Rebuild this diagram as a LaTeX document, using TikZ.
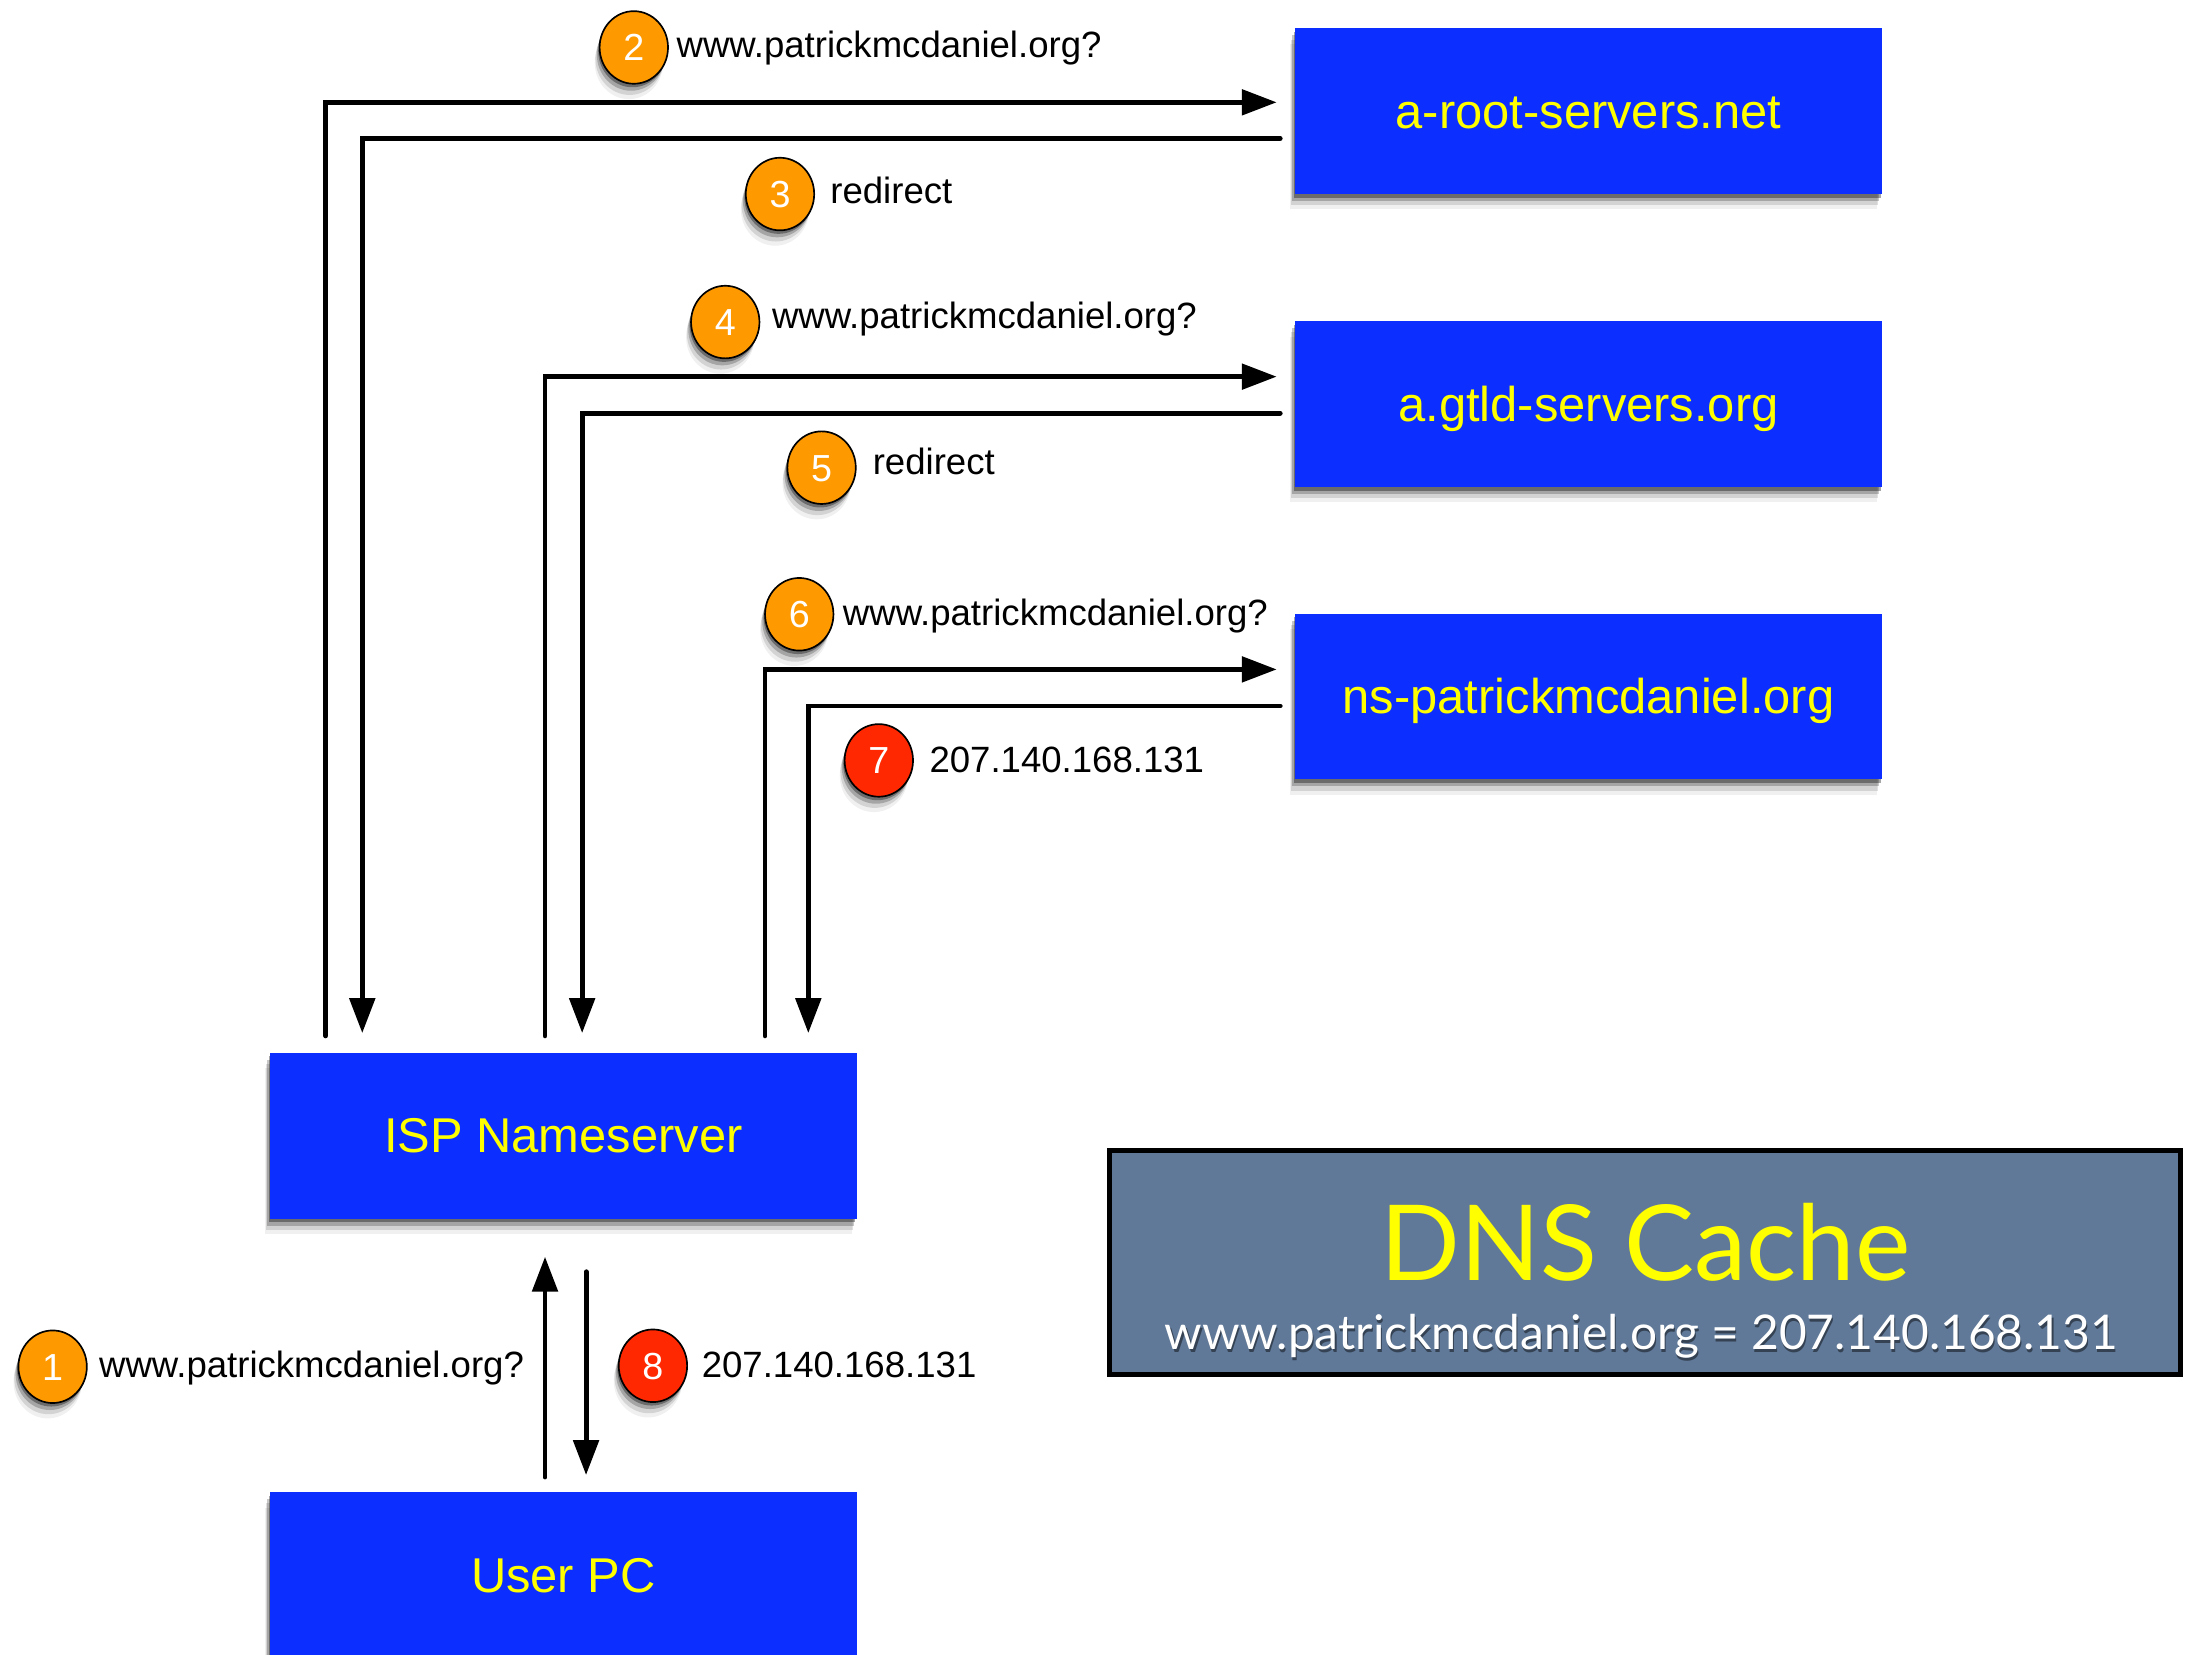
\documentclass[tikz,border=0pt]{standalone}
\usepackage{fontspec}
\setmainfont{Liberation Sans}
\newfontfamily\gillfont{Lato}
\usepackage{graphicx}
\usetikzlibrary{arrows.meta,shapes.geometric,shadows}
\definecolor{boxblue}{RGB}{12,46,255}
\definecolor{boxyellow}{RGB}{255,255,0}
\definecolor{badgeorange}{RGB}{255,153,0}
\definecolor{badgered}{RGB}{255,40,0}
\definecolor{cacheslate}{RGB}{96,121,152}
\begin{document}
\begin{tikzpicture}[x=1pt,y=-1pt,
 softshadow/.style={
   drop shadow={shadow xshift=-1pt,shadow yshift=-2.5pt,opacity=.35,fill=black},
   drop shadow={shadow xshift=-2pt,shadow yshift=-5pt,opacity=.22,fill=black},
   drop shadow={shadow xshift=-3pt,shadow yshift=-8pt,opacity=.12,fill=black},
   drop shadow={shadow xshift=-3.5pt,shadow yshift=-11pt,opacity=.06,fill=black}},
 server/.style={rectangle, fill=boxblue, text=boxyellow, minimum width=420.3pt,
   minimum height=118.7pt, inner sep=0pt, text height=24.6pt, text depth=0pt,
   font=\fontsize{35}{42}\selectfont, softshadow},
 badge/.style={ellipse, draw=black, line width=1.2pt, minimum width=49pt,
   minimum height=52pt, inner sep=0pt, text=white, text height=19.3pt, text depth=0pt,
   font=\fontsize{27}{32}\selectfont, softshadow},
 qbadge/.style={badge, fill=badgeorange},
 abadge/.style={badge, fill=badgered},
 msg/.style={anchor=base west, inner sep=0pt, font=\fontsize{26.2}{31}\selectfont},
 conn/.style={line width=3.5pt, line cap=round, line join=miter,
   -{Triangle[length=25pt,width=18pt]}},
]
\useasboundingbox (0,0) rectangle (1568,1184.8);

% servers
\node[server] (root) at (1137.85,79.65) {a-root-servers.net};
\node[server] (gtld) at (1137.85,289.5) {a.gtld-servers.org};
\node[server] (ns)   at (1137.85,499)   {ns-patrickmcdaniel.org};
\node[server] (isp)  at (403.5,813.5)   {ISP Nameserver};
\node[server] (user) at (403.5,1128.2)  {User PC};

% connector end points
\coordinate (q2s) at (233.3,742);   \coordinate (q2e) at (914.5,73.3);
\coordinate (r3s) at (917,99.1);    \coordinate (r3e) at (259.5,740);
\coordinate (q4s) at (390.4,742);   \coordinate (q4e) at (914.5,269.8);
\coordinate (r5s) at (917,296);     \coordinate (r5e) at (417,740);
\coordinate (q6s) at (548,742);     \coordinate (q6e) at (914.5,479.5);
\coordinate (r7s) at (917,505.7);   \coordinate (r7e) at (579,740);
\coordinate (a1s) at (390.4,1058);  \coordinate (a1e) at (390.4,900.2);
\coordinate (a8s) at (419.8,911);   \coordinate (a8e) at (419.8,1056.6);

\draw[conn] (q2s) |- (q2e);
\draw[conn] (r3s) -| (r3e);
\draw[conn] (q4s) |- (q4e);
\draw[conn] (r5s) -| (r5e);
\draw[conn] (q6s) |- (q6e);
\draw[conn] (r7s) -| (r7e);
\draw[conn] (a1s) -- (a1e);
\draw[conn] (a8s) -- (a8e);

% badges and messages
\node[qbadge] (b1) at (37.7,979) {1};
\node[msg] (m1) at (70.8,987) {www.patrickmcdaniel.org?};
\node[qbadge] (b2) at (454,34) {2};
\node[msg] (m2) at (484.5,41) {www.patrickmcdaniel.org?};
\node[qbadge] (b3) at (558.7,139) {3};
\node[msg] (m3) at (594.6,146) {redirect};
\node[qbadge] (b4) at (519.5,230.7) {4};
\node[msg] (m4) at (552.8,235.5) {www.patrickmcdaniel.org?};
\node[qbadge] (b5) at (588.5,335) {5};
\node[msg] (m5) at (625,340) {redirect};
\node[qbadge] (b6) at (572.5,440) {6};
\node[msg] (m6) at (603.6,447.7) {www.patrickmcdaniel.org?};
\node[abadge] (b7) at (629.5,544.7) {7};
\node[msg] (m7) at (665.6,553.5) {207.140.168.131};
\node[abadge] (b8) at (467.7,978.3) {8};
\node[msg] (m8) at (502.5,987) {207.140.168.131};

% DNS cache
\node[draw=black, line width=3.6pt, fill=cacheslate, minimum width=767.4pt,
  minimum height=160pt, inner sep=0pt] (cache) at (1178.5,904.4) {};
\node[anchor=base, text=boxyellow, inner sep=0pt] (cachetitle) at (1178.7,917)
  {\resizebox{379.5pt}{!}{\gillfont DNS Cache}};
\node[anchor=base, text=black, opacity=.45, inner sep=0pt] (cacheentryshade) at (1176.6,968.5)
  {\resizebox{682.5pt}{!}{\gillfont www.patrickmcdaniel.org = 207.140.168.131}};
\node[anchor=base, text=white, inner sep=0pt] (cacheentry) at (1175.8,966.5)
  {\resizebox{682.5pt}{!}{\gillfont www.patrickmcdaniel.org = 207.140.168.131}};
\end{tikzpicture}
\end{document}
